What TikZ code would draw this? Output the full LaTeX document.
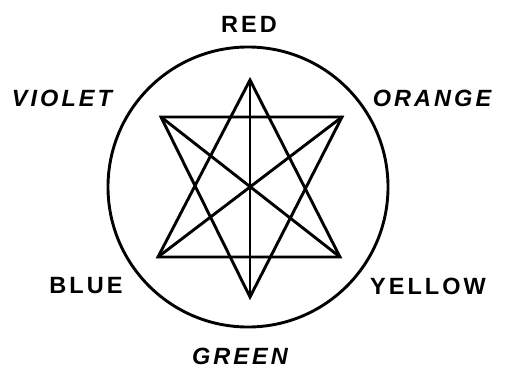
\documentclass[tikz,border=0pt]{standalone}
\usepackage{fontspec}
\setmainfont{Liberation Sans}[LetterSpace=13]
\begin{document}
\begin{tikzpicture}[x=1pt,y=-1pt,
  edge/.style={line width=2.9pt, line join=miter, line cap=round},
  lbl/.style={font=\fontsize{23.5}{23.5}\selectfont\bfseries, inner sep=0pt, anchor=center},
  ilbl/.style={lbl, font=\fontsize{23.5}{23.5}\selectfont\bfseries\itshape}]
\useasboundingbox (0,0) rectangle (511,369);
\coordinate (c) at (248,187);
\draw[edge] (c) circle[radius=140];
\coordinate (T) at (250,80);
\coordinate (UL) at (161,117);
\coordinate (UR) at (342,117);
\coordinate (LL) at (158,257);
\coordinate (LR) at (340,257);
\coordinate (B) at (250,297);
\draw[edge] (T) -- (LL) -- (LR) -- cycle;
\draw[edge] (B) -- (UL) -- (UR) -- cycle;
\draw[edge] (T) -- (B);
\draw[edge] (UL) -- (LR);
\draw[edge] (UR) -- (LL);
\node[lbl] (red) at (249,24) {RED};
\node[ilbl] (violet) at (62,98) {VIOLET};
\node[ilbl] (orange) at (432,98) {ORANGE};
\node[lbl] (blue) at (86,286) {BLUE};
\node[lbl] (yellow) at (428,286) {YELLOW};
\node[ilbl] (green) at (240,356) {GREEN};
\end{tikzpicture}
\end{document}
